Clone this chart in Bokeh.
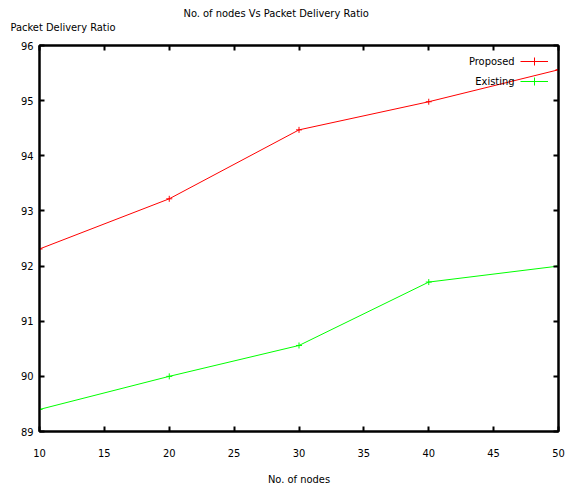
from bokeh.plotting import figure
from bokeh.models import (Range1d, LinearAxis, Label, Legend, LegendItem,
                          FixedTicker, CustomJSTickFormatter, Title)
from bokeh.embed import file_html
from bokeh.resources import INLINE

nodes = [10, 20, 30, 40, 50]
proposed = [92.31, 93.22, 94.47, 94.98, 95.56]
existing = [89.40, 90.00, 90.56, 91.71, 92.00]
x_ticks = [10, 15, 20, 25, 30, 35, 40, 45, 50]
y_ticks = [89, 90, 91, 92, 93, 94, 95, 96]

FONT = "DejaVu Sans Condensed"
FS = "11px"
W, H = 565, 488
BL, BR, BT, BB = 39, 7, 45, 57

p = figure(width=W, height=H, output_backend="svg", toolbar_location=None,
           x_range=Range1d(10, 50), y_range=Range1d(89, 96),
           min_border_left=BL, min_border_right=BR, min_border_top=BT,
           min_border_bottom=BB, x_axis_location=None, y_axis_location=None)
p.title = None
p.grid.visible = False
p.outline_line_color = "black"
p.outline_line_width = 2
p.background_fill_color = "white"
p.border_fill_color = "white"

blank = CustomJSTickFormatter(code="return ''")

def style(ax, labels=True):
    ax.major_tick_in = 5
    ax.major_tick_out = 0
    ax.minor_tick_line_color = None
    ax.axis_line_color = "black"
    ax.axis_line_width = 2
    ax.major_tick_line_width = 2
    ax.major_label_text_font = FONT
    ax.major_label_text_font_size = FS
    ax.major_label_text_color = "black"
    if not labels:
        ax.formatter = blank
        ax.major_label_standoff = 0

xb = LinearAxis(ticker=FixedTicker(ticks=x_ticks), axis_label="No. of nodes")
style(xb)
xb.major_label_standoff = 17
xb.axis_label_standoff = 13
xb.axis_label_text_font = FONT
xb.axis_label_text_font_size = FS
xb.axis_label_text_font_style = "normal"
xb.axis_label_text_color = "black"
p.add_layout(xb, "below")

yl = LinearAxis(ticker=FixedTicker(ticks=y_ticks))
style(yl)
yl.major_label_standoff = 6
p.add_layout(yl, "left")

xt = LinearAxis(ticker=FixedTicker(ticks=x_ticks))
style(xt, labels=False)
p.add_layout(xt, "above")
yr = LinearAxis(ticker=FixedTicker(ticks=y_ticks))
style(yr, labels=False)
p.add_layout(yr, "right")

r1 = p.line(nodes, proposed, line_color="#ff0000", line_width=1)
m1 = p.scatter(nodes, proposed, marker="cross", size=6, line_color="#ff0000")
r2 = p.line(nodes, existing, line_color="#00ff00", line_width=1)
m2 = p.scatter(nodes, existing, marker="cross", size=6, line_color="#00ff00")

legend = Legend(items=[LegendItem(label="", renderers=[r1, m1]),
                       LegendItem(label="", renderers=[r2, m2])],
                location="top_right", margin=6, padding=0, spacing=0,
                glyph_width=28, glyph_height=20, label_height=20,
                label_width=0, label_standoff=4, background_fill_alpha=0,
                border_line_color=None, label_text_font=FONT,
                label_text_font_size=FS)
p.add_layout(legend, "center")

FB = H - BB  # frame bottom (fig px from top)

def lab(text, X, Y, align="left"):
    # X, Y: figure pixel position measured from top-left
    p.add_layout(Label(x=X - BL, y=FB - Y, x_units="screen", y_units="screen",
                       text=text, text_font=FONT, text_font_size=FS,
                       text_color="black", text_align=align,
                       text_baseline="middle"))

lab("Proposed", 514, 61, "right")
lab("Existing", 514, 81, "right")

t_y = Title(text="Packet Delivery Ratio", align="left", offset=-29,
            standoff=23, text_font=FONT, text_font_size=FS,
            text_font_style="normal", text_color="black")
p.add_layout(t_y, "above")
t_main = Title(text="No. of nodes Vs Packet Delivery Ratio", align="left",
               offset=144, standoff=-25, text_font=FONT, text_font_size=FS,
               text_font_style="normal", text_color="black")
p.add_layout(t_main, "above")

open("out.html", "w").write(file_html(p, INLINE))
